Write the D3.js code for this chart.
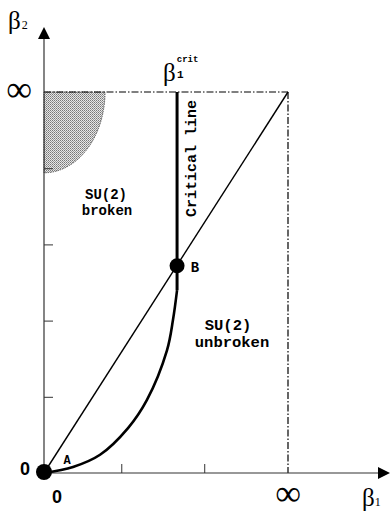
<!DOCTYPE html>
<html>
<head>
<meta charset="utf-8">
<script src="https://cdn.jsdelivr.net/npm/d3@7"></script>
<style>
  body { margin: 0; background: #fff; }
  .mono { font-family: "Liberation Mono", "DejaVu Sans Mono", monospace; font-weight: bold; }
  .serif { font-family: "Liberation Serif", "DejaVu Serif", serif; }
  .tick line { stroke: #333; }
</style>
</head>
<body>
<div id="chart"></div>
<script>
// phase diagram values (beta1, beta2); "infinity" sits at the end of each domain
const xInf = 3, yInf = 5;
const xTickValues = [0.95, 1.97];
const yTickValues = [1, 2, 3, 4];
const betaCrit = 1.636;
const pointB = [1.636, 2.72];
const pointA = [0, 0];
const curveBeta1 = [0, 0.357, 0.689, 1.033, 1.266, 1.512, 1.586, 1.636];
const curveBeta2 = [0, 0.08, 0.24, 0.59, 0.96, 1.61, 2.01, 2.40];
const shadeRx = 0.75, shadeRy = 1.06;

var width = 390, height = 514;
var margin = { left: 44, top: 92, right: 102, bottom: 41 };

var svg = d3.select("#chart").append("svg")
    .attr("width", width)
    .attr("height", height);

var x = d3.scaleLinear().domain([0, xInf]).range([margin.left, width - margin.right]);
var y = d3.scaleLinear().domain([0, yInf]).range([height - margin.bottom, margin.top]);

var defs = svg.append("defs");
var pat = defs.append("pattern")
    .attr("id", "stipple")
    .attr("width", 2).attr("height", 2)
    .attr("patternUnits", "userSpaceOnUse");
pat.append("rect").attr("width", 2).attr("height", 2).attr("fill", "#e6e6e6");
pat.append("rect").attr("width", 1).attr("height", 1).attr("fill", "#777");
pat.append("rect").attr("x", 1).attr("y", 1).attr("width", 1).attr("height", 1).attr("fill", "#999");

// shaded region, quarter ellipse in the top-left corner
var rx = x(shadeRx) - x(0), ry = y(yInf - shadeRy) - y(yInf);
svg.append("path")
    .attr("d", "M" + x(0) + "," + y(yInf) +
        " L" + (x(0) + rx) + "," + y(yInf) +
        " A" + rx + "," + ry + " 0 0 1 " + x(0) + "," + (y(yInf) + ry) + " Z")
    .attr("fill", "url(#stipple)")
    .attr("stroke", "#555")
    .attr("stroke-width", 1)
    .attr("stroke-dasharray", "1.5,1");

// dash-dot border at infinity
var dashDot = "7,2,1.5,2";
svg.append("line")
    .attr("x1", x(0)).attr("y1", y(yInf))
    .attr("x2", x(xInf)).attr("y2", y(yInf))
    .attr("stroke", "#000").attr("stroke-width", 1.2)
    .attr("stroke-dasharray", dashDot);
svg.append("line")
    .attr("x1", x(xInf)).attr("y1", y(yInf))
    .attr("x2", x(xInf)).attr("y2", y(0))
    .attr("stroke", "#000").attr("stroke-width", 1.2)
    .attr("stroke-dasharray", dashDot);

// axes
svg.append("line")
    .attr("x1", x(0)).attr("y1", y(0))
    .attr("x2", x(0)).attr("y2", 38)
    .attr("stroke", "#333").attr("stroke-width", 1.2);
svg.append("path")
    .attr("d", "M" + x(0) + ",27 L" + (x(0) - 6) + ",39 L" + (x(0) + 6) + ",39 Z")
    .attr("fill", "#000");
svg.append("line")
    .attr("x1", x(0)).attr("y1", y(0))
    .attr("x2", 379).attr("y2", y(0))
    .attr("stroke", "#333").attr("stroke-width", 1.2);
svg.append("path")
    .attr("d", "M390," + y(0) + " L378," + (y(0) - 6) + " L378," + (y(0) + 6) + " Z")
    .attr("fill", "#000");

var yAxis = d3.axisRight(y).tickValues(yTickValues).tickSize(9).tickFormat("");
svg.append("g")
    .attr("transform", "translate(" + x(0) + ",0)")
    .call(yAxis)
    .call(g => g.select(".domain").remove());

var xAxis = d3.axisTop(x).tickValues(xTickValues).tickSize(9).tickFormat("");
svg.append("g")
    .attr("transform", "translate(0," + y(0) + ")")
    .call(xAxis)
    .call(g => g.select(".domain").remove());

// diagonal
svg.append("line")
    .attr("x1", x(pointA[0])).attr("y1", y(pointA[1]))
    .attr("x2", x(xInf)).attr("y2", y(yInf))
    .attr("stroke", "#000").attr("stroke-width", 1.4);

// critical line
svg.append("line")
    .attr("x1", x(betaCrit)).attr("y1", y(yInf))
    .attr("x2", x(betaCrit)).attr("y2", y(curveBeta2[curveBeta2.length - 1]))
    .attr("stroke", "#000").attr("stroke-width", 3);

// curve A -> critical line
var curvePts = curveBeta1.map((d, i) => [d, curveBeta2[i]]);
svg.append("path")
    .datum(curvePts)
    .attr("d", d3.line().x(d => x(d[0])).y(d => y(d[1])).curve(d3.curveCatmullRom))
    .attr("fill", "none")
    .attr("stroke", "#000")
    .attr("stroke-width", 2.6);

// points
svg.append("circle").attr("cx", x(pointA[0])).attr("cy", y(pointA[1]) - 1).attr("r", 8).attr("fill", "#000");
svg.append("circle").attr("cx", x(pointB[0])).attr("cy", y(pointB[1])).attr("r", 7.5).attr("fill", "#000");

// labels
svg.append("text").attr("class", "mono").attr("x", 67).attr("y", 464)
    .attr("text-anchor", "middle").attr("font-size", 12).text("A");
svg.append("text").attr("class", "mono").attr("x", 195).attr("y", 272)
    .attr("text-anchor", "middle").attr("font-size", 14).text("B");

var b2 = svg.append("text").attr("class", "serif").attr("x", 8).attr("y", 29).attr("font-size", 25);
b2.append("tspan").text("β");
b2.append("tspan").attr("font-size", 12).attr("dx", 1).text("2");

var b1 = svg.append("text").attr("class", "serif").attr("x", 362).attr("y", 506).attr("font-size", 25);
b1.append("tspan").text("β");
b1.append("tspan").attr("font-size", 12).text("1");

var bc = svg.append("text").attr("x", 163).attr("y", 81);
bc.append("tspan").attr("class", "serif").attr("font-size", 25).text("β");
bc.append("tspan").attr("class", "mono").attr("font-size", 9).attr("dy", -19).attr("dx", 1).text("crit");
bc.append("tspan").attr("class", "mono").attr("font-size", 11).attr("x", 177).attr("dy", 16).text("1");

svg.append("text").attr("class", "serif").attr("x", 19).attr("y", y(yInf) + 9)
    .attr("text-anchor", "middle").attr("font-size", 36).text("∞");
svg.append("text").attr("class", "serif").attr("x", x(xInf)).attr("y", 505)
    .attr("text-anchor", "middle").attr("font-size", 36).text("∞");

svg.append("text").attr("x", 25).attr("y", 475)
    .attr("text-anchor", "middle").attr("font-family", "Liberation Sans, Arial, sans-serif")
    .attr("font-weight", "bold").attr("font-size", 18).text("0");
svg.append("text").attr("x", 57).attr("y", 503)
    .attr("text-anchor", "middle").attr("font-family", "Liberation Sans, Arial, sans-serif")
    .attr("font-weight", "bold").attr("font-size", 18).text("0");

svg.append("text").attr("class", "mono")
    .attr("transform", "translate(196,217) rotate(-90)")
    .attr("font-size", 15).text("Critical line");

svg.append("text").attr("class", "mono").attr("x", 106).attr("y", 199)
    .attr("text-anchor", "middle").attr("font-size", 14).text("SU(2)");
svg.append("text").attr("class", "mono").attr("x", 107).attr("y", 215)
    .attr("text-anchor", "middle").attr("font-size", 14).text("broken");

svg.append("text").attr("class", "mono").attr("x", 228).attr("y", 330)
    .attr("text-anchor", "middle").attr("font-size", 15.5).text("SU(2)");
svg.append("text").attr("class", "mono").attr("x", 232).attr("y", 347)
    .attr("text-anchor", "middle").attr("font-size", 15.5).text("unbroken");
</script>
</body>
</html>
